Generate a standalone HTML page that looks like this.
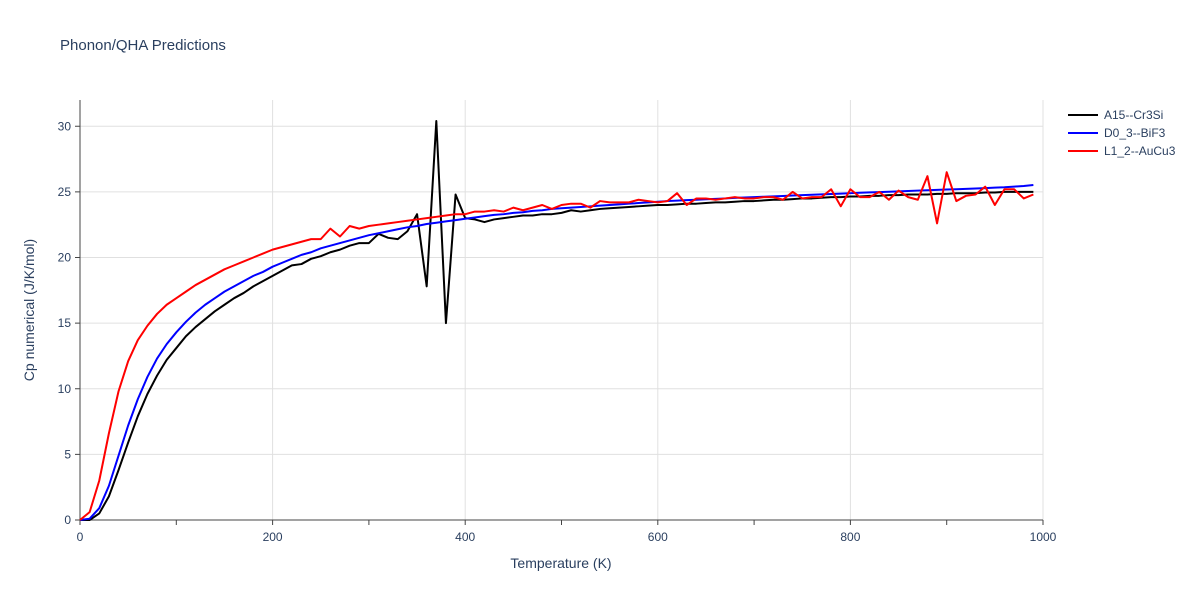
<!DOCTYPE html>
<html><head><meta charset="utf-8"><style>
body{margin:0;background:#fff;font-family:"Liberation Sans",sans-serif;}
svg text{font-family:"Liberation Sans",sans-serif;fill:#2a3f5f;}
</style></head><body>
<svg id="chart" width="1200" height="600">
<rect width="1200" height="600" fill="#fff"/>
<text x="60" y="50" font-size="15">Phonon/QHA Predictions</text>
<g id="grid"></g><g id="axes"></g><g id="lines"></g><g id="legend"></g>
<text x="561" y="568" font-size="14" text-anchor="middle">Temperature (K)</text>
<text x="34" y="310" font-size="14" text-anchor="middle" transform="rotate(-90 34 310)">Cp numerical (J/K/mol)</text>
</svg>
<script>
const temps = Array.from({length:100},(_,i)=>i*10);
const seriesNames = ["A15--Cr3Si","D0_3--BiF3","L1_2--AuCu3"];
const seriesColors = ["#000000","#0000ff","#ff0000"];
const cr3si = [0,0,0.5,1.8,3.8,5.9,7.9,9.6,11.0,12.2,13.1,14.0,14.7,15.3,15.9,16.4,16.9,17.3,17.8,18.2,18.6,19.0,19.4,19.5,19.9,20.1,20.4,20.6,20.9,21.1,21.1,21.8,21.5,21.4,22.0,23.3,17.8,30.4,15.0,24.8,23.0,22.9,22.7,22.9,23.0,23.1,23.2,23.2,23.3,23.3,23.4,23.6,23.5,23.6,23.7,23.75,23.8,23.85,23.9,23.95,24.0,24.0,24.05,24.1,24.1,24.15,24.2,24.2,24.25,24.3,24.3,24.35,24.4,24.4,24.45,24.5,24.5,24.55,24.6,24.6,24.65,24.65,24.7,24.7,24.75,24.75,24.8,24.8,24.8,24.85,24.85,24.9,24.9,24.9,24.95,24.95,25.0,25.0,25.0,25.0];
const bif3 = [0,0.1,0.9,2.6,4.9,7.2,9.2,10.9,12.3,13.4,14.3,15.1,15.8,16.4,16.9,17.4,17.8,18.2,18.6,18.9,19.3,19.6,19.9,20.2,20.4,20.7,20.9,21.1,21.3,21.5,21.7,21.85,22.0,22.15,22.3,22.4,22.55,22.65,22.75,22.85,22.95,23.05,23.15,23.25,23.3,23.4,23.45,23.55,23.6,23.7,23.75,23.8,23.85,23.9,23.95,24.0,24.05,24.1,24.15,24.2,24.25,24.3,24.33,24.37,24.4,24.44,24.47,24.5,24.54,24.57,24.6,24.63,24.66,24.69,24.72,24.75,24.78,24.81,24.84,24.87,24.9,24.93,24.96,24.98,25.01,25.04,25.07,25.1,25.12,25.15,25.18,25.2,25.23,25.26,25.29,25.32,25.35,25.4,25.45,25.52];
const aucu3 = [0,0.6,3.0,6.6,9.8,12.1,13.7,14.8,15.7,16.4,16.9,17.4,17.9,18.3,18.7,19.1,19.4,19.7,20.0,20.3,20.6,20.8,21.0,21.2,21.4,21.4,22.2,21.6,22.4,22.2,22.4,22.5,22.6,22.7,22.8,22.9,23.0,23.1,23.2,23.3,23.3,23.5,23.5,23.6,23.5,23.8,23.6,23.8,24.0,23.7,24.0,24.1,24.1,23.8,24.3,24.2,24.2,24.2,24.4,24.3,24.2,24.3,24.9,24.0,24.5,24.5,24.4,24.5,24.6,24.5,24.5,24.6,24.6,24.4,25.0,24.5,24.6,24.6,25.2,23.9,25.2,24.6,24.6,25.0,24.4,25.1,24.6,24.4,26.2,22.6,26.5,24.3,24.7,24.8,25.4,24.0,25.2,25.2,24.5,24.8];
const xTicks = [0,200,400,600,800,1000];
const yTicks = [0,5,10,15,20,25,30];
const L=80,R=1043,T=100,B=520, XMAX=1000, YMAX=32;
const X=v=>L+(v/XMAX)*(R-L);
const Y=v=>B-(v/YMAX)*(B-T);
const NS="http://www.w3.org/2000/svg";
function mk(tag,attrs,parent){const e=document.createElementNS(NS,tag);for(const k in attrs)e.setAttribute(k,attrs[k]);parent.appendChild(e);return e;}
const grid=document.getElementById('grid'),axes=document.getElementById('axes'),lines=document.getElementById('lines'),legend=document.getElementById('legend');
yTicks.forEach(t=>{
  if(t>0){const g=mk('line',{x1:L,x2:R,y1:Y(t),y2:Y(t),stroke:'#e0e0e0','stroke-width':1},grid);
  
  }
  const tk=mk('line',{x1:L-5,x2:L,y1:Y(t),y2:Y(t),stroke:'#444'},axes);
  
  
  const tx=mk('text',{x:L-9,y:Y(t)+4,'font-size':12,'text-anchor':'end'},axes);tx.textContent=t;
  
  
});
xTicks.forEach(t=>{
  if(t>0){const g=mk('line',{x1:X(t),x2:X(t),y1:T,y2:B,stroke:'#e0e0e0'},grid);
  
  }
  const tx=mk('text',{x:X(t),y:B+21,'font-size':12,'text-anchor':'middle'},axes);tx.textContent=t;
  
  
});
for(let t=0;t<=XMAX;t+=100){const tk=mk('line',{x1:X(t),x2:X(t),y1:B,y2:B+5,stroke:'#444'},axes);
  
  }
const xa=mk('line',{x1:L,x2:R,y1:B,y2:B,stroke:'#444'},axes);


const ya=mk('line',{x1:L,x2:L,y1:T,y2:B,stroke:'#444'},axes);


[cr3si,bif3,aucu3].forEach((s,i)=>{
  const p=mk('polyline',{points:s.map((v,j)=>X(temps[j])+','+Y(v)).join(' '),fill:'none',stroke:seriesColors[i],'stroke-width':2,'stroke-linejoin':'round'},lines);
  
  
  const ly=115+i*18;
  const ll=mk('line',{x1:1068,x2:1098,y1:ly,y2:ly,stroke:seriesColors[i],'stroke-width':2},legend);
  
  
  const lt=mk('text',{x:1104,y:ly+4,'font-size':12},legend);lt.textContent=seriesNames[i];
  
  
});
</script>
</body></html>
